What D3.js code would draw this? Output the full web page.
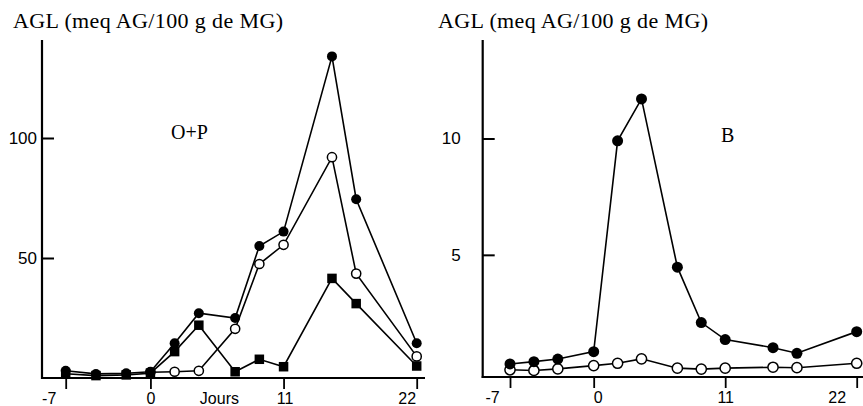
<!DOCTYPE html>
<html>
<head>
<meta charset="utf-8">
<script src="https://cdn.jsdelivr.net/npm/d3@7"></script>
<style>
  html, body { margin: 0; padding: 0; background: #fff; }
  svg { display: block; }
</style>
</head>
<body>
<script>
// ---------- DATA ----------
const yTitle = "AGL (meq AG/100 g de MG)";
const xTickValues = [-7, 0, 11, 22];
const xTickLabels = ["-7", "0", "11", "22"];
const xAxisLabel = "Jours";

// Panel O+P
const opLabel = "O+P";
const opDays = [-7, -4.5, -2, 0, 2, 4, 7, 9, 11, 15, 17, 22];
const opFilled = [3, 1.7, 2, 2.6, 14.5, 27, 25, 55, 61, 134, 74.5, 14.5];
const opSquare = [1.8, 1.0, 1.3, 2.0, 11, 22, 2.6, 7.8, 4.7, 41.5, 31, 5];
const opOpenDays = [0, 2, 4, 7, 9, 11, 15, 17, 22];
const opOpen = [2.4, 2.6, 3, 20.5, 47.5, 55.5, 92, 43.5, 9];
const opYTicks = [50, 100];

// Panel B
const bLabel = "B";
const bDays = [-7, -5, -3, 0, 2, 4, 7, 9, 11, 15, 17, 22];
const bFilled = [0.31, 0.41, 0.52, 0.84, 9.9, 11.7, 4.47, 2.09, 1.36, 1.01, 0.77, 1.70];
const bOpen = [0.06, 0.03, 0.10, 0.24, 0.34, 0.53, 0.13, 0.09, 0.13, 0.17, 0.15, 0.34];
const bYTicks = [5, 10];

// ---------- DRAW ----------
const W = 863, H = 406;
const svg = d3.select("body").append("svg").attr("width", W).attr("height", H);

const serif = "'Liberation Serif', 'DejaVu Serif', serif";
const sans = "'Liberation Sans', Arial, sans-serif";

function zip(days, vals) { return days.map((d, i) => ({ day: d, v: vals[i] })); }

function panel(cfg) {
  const g = svg.append("g");
  const x = d3.scaleLinear().domain([-7, 22]).range(cfg.xRange);
  const y = d3.scaleLinear().domain(cfg.yDomain).range(cfg.yRange);
  const axisY = y(cfg.yDomain[0]);

  // title
  g.append("text")
    .attr("x", cfg.titleX).attr("y", 28)
    .attr("font-family", serif).attr("font-size", 22)
    .attr("textLength", 270).attr("lengthAdjust", "spacing")
    .text(yTitle);

  // axis lines
  g.append("line")
    .attr("x1", cfg.axisX).attr("x2", cfg.axisX)
    .attr("y1", cfg.axisTop).attr("y2", axisY + 1)
    .attr("stroke", "#000").attr("stroke-width", 2.2);
  g.append("line")
    .attr("x1", cfg.axisX - 1).attr("x2", cfg.axisRight)
    .attr("y1", axisY).attr("y2", axisY)
    .attr("stroke", "#000").attr("stroke-width", 2.2);

  // y axis
  const ya = g.append("g").attr("transform", `translate(${cfg.axisX},0)`)
    .call(d3.axisLeft(y).tickValues(cfg.yTicks).tickSizeInner(-12).tickSizeOuter(0).tickPadding(cfg.yPad));
  ya.select(".domain").remove();
  ya.selectAll("line").attr("stroke-width", 2);
  ya.selectAll("text").attr("font-family", sans).attr("font-size", 17).attr("fill", "#000");

  // x axis
  const xa = g.append("g").attr("transform", `translate(0,${axisY})`)
    .call(d3.axisBottom(x).tickValues(xTickValues).tickSize(11).tickPadding(4)
      .tickFormat((d, i) => xTickLabels[i]));
  xa.select(".domain").remove();
  xa.selectAll("line").attr("stroke-width", 1.8);
  xa.selectAll("text").attr("font-family", sans).attr("font-size", 16).attr("fill", "#000")
    .attr("dx", (d, i) => cfg.xLabelDx[i]);

  if (cfg.showXLabel) {
    g.append("text").attr("x", x(cfg.xLabelDay)).attr("y", axisY + 15)
      .attr("dy", "0.71em").attr("text-anchor", "middle")
      .attr("font-family", sans).attr("font-size", 16).text(xAxisLabel);
  }

  // panel label
  g.append("text").attr("x", cfg.labelX).attr("y", cfg.labelY)
    .attr("font-family", serif).attr("font-size", 20).text(cfg.label);

  const line = d3.line().x(d => x(d.day)).y(d => y(d.v));

  // lines
  cfg.series.forEach(s => {
    g.append("path").datum(s.data).attr("d", line)
      .attr("fill", "none").attr("stroke", "#000").attr("stroke-width", 1.6);
  });
  // markers
  cfg.series.forEach(s => {
    const m = g.append("g");
    if (s.type === "square") {
      m.selectAll("rect").data(s.data).join("rect")
        .attr("x", d => x(d.day) - cfg.sq / 2).attr("y", d => y(d.v) - cfg.sq / 2)
        .attr("width", cfg.sq).attr("height", cfg.sq).attr("fill", "#000");
    } else if (s.type === "open") {
      m.selectAll("circle").data(s.data).join("circle")
        .attr("cx", d => x(d.day)).attr("cy", d => y(d.v)).attr("r", cfg.r - 0.4)
        .attr("fill", "#fff").attr("stroke", "#000").attr("stroke-width", 1.5);
    } else {
      m.selectAll("circle").data(s.data).join("circle")
        .attr("cx", d => x(d.day)).attr("cy", d => y(d.v)).attr("r", cfg.r)
        .attr("fill", "#000");
    }
  });
}

panel({
  xRange: [65.7, 416.7],
  yDomain: [0, 140], yRange: [378, 42],
  axisX: 42, axisTop: 40, axisRight: 425,
  yTicks: opYTicks, yPad: 5,
  xLabelDx: [-17, 0, 1, -10],
  showXLabel: true, xLabelDay: 5.7,
  titleX: 13, label: opLabel, labelX: 171, labelY: 139,
  r: 5, sq: 9.5,
  series: [
    { type: "square", data: zip(opDays, opSquare) },
    { type: "open", data: zip(opOpenDays, opOpen) },
    { type: "filled", data: zip(opDays, opFilled) }
  ]
});

panel({
  xRange: [510, 856.7],
  yDomain: [-0.25, 14.25], yRange: [377, 39.6],
  axisX: 482.7, axisTop: 40, axisRight: 863,
  yTicks: bYTicks, yPad: 22,
  xLabelDx: [-18, 4, 0, -20],
  showXLabel: false,
  titleX: 438, label: bLabel, labelX: 721, labelY: 142,
  r: 5.5, sq: 9.5,
  series: [
    { type: "open", data: zip(bDays, bOpen) },
    { type: "filled", data: zip(bDays, bFilled) }
  ]
});
</script>
</body>
</html>
